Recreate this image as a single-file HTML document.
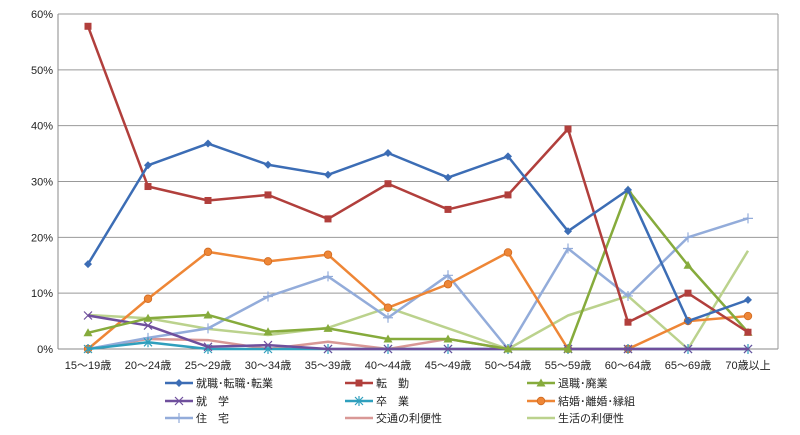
<!DOCTYPE html>
<html><head><meta charset="utf-8"><style>
body{margin:0;background:#fff;font-family:"Liberation Sans","Noto Sans CJK JP",sans-serif}
svg text{font-size:11px;fill:#222;font-family:"Liberation Sans","Noto Sans CJK JP",sans-serif}
</style></head><body>
<svg id="c" width="800" height="430" xmlns="http://www.w3.org/2000/svg"></svg>
<script>
const categories=["15～19歳","20～24歳","25～29歳","30～34歳","35～39歳","40～44歳","45～49歳","50～54歳","55～59歳","60～64歳","65～69歳","70歳以上"];
const yTicks=[0,10,20,30,40,50,60];
const sShushoku=[15.2,32.9,36.8,33.0,31.2,35.1,30.7,34.5,21.1,28.5,5.0,8.8];
const sTenkin=[57.8,29.1,26.6,27.6,23.3,29.6,25.0,27.6,39.4,4.8,10.0,3.0];
const sTaishoku=[2.9,5.5,6.1,3.1,3.7,1.8,1.8,0,0,28.5,15.0,3.0];
const sShugaku=[6.0,4.2,0.4,0.7,0,0,0,0,0,0,0,0];
const sSotsugyo=[0,1.2,0,0,0,0,0,0,0,0,0,0];
const sKekkon=[0,9.0,17.4,15.7,16.9,7.4,11.6,17.3,0,0,5.0,5.9];
const sJutaku=[0,2.0,3.7,9.4,13.0,5.6,13.2,0,18.0,9.5,20.0,23.4];
const sKotsu=[0,1.8,1.6,0,1.3,0,1.8,0,0,0,0,0];
const sSeikatsu=[6.1,5.5,3.6,2.5,3.8,7.4,3.7,0,6.0,9.5,0,17.6];
const series=[
 {n:"就職･転職･転業",d:sShushoku,c:"#3c6db5",m:"diamond",id:"shushoku"},
 {n:"転　勤",d:sTenkin,c:"#b13f3c",m:"square",id:"tenkin"},
 {n:"退職･廃業",d:sTaishoku,c:"#86ab3c",m:"triangle",id:"taishoku"},
 {n:"就　学",d:sShugaku,c:"#6f4f9c",m:"x",id:"shugaku"},
 {n:"卒　業",d:sSotsugyo,c:"#2f9fbd",m:"star",id:"sotsugyo"},
 {n:"結婚･離婚･縁組",d:sKekkon,c:"#ee8636",m:"circle",id:"kekkon"},
 {n:"住　宅",d:sJutaku,c:"#93acda",m:"plus",id:"jutaku"},
 {n:"交通の利便性",d:sKotsu,c:"#d99896",m:"none",id:"kotsu"},
 {n:"生活の利便性",d:sSeikatsu,c:"#bbd28d",m:"none",id:"seikatsu"}];
const L=58,R=778,T=14,B=349;
const x=i=>L+(R-L)/categories.length*(i+0.5);
const y=v=>B-(B-T)*v/60;
const svg=document.getElementById('c');const NS="http://www.w3.org/2000/svg";
function mk(t,a,p){const e=document.createElementNS(NS,t);for(const k in a)e.setAttribute(k,a[k]);(p||svg).appendChild(e);return e;}
const gr=mk('g',{});


yTicks.forEach(t=>{
 const l=mk('line',{x1:L,x2:R,y1:y(t),y2:y(t),stroke:t?'#999':'#888','stroke-width':1},gr);
 
 
 const tx=mk('text',{x:L-5,y:y(t)+4,'text-anchor':'end'});tx.textContent=t+'%';
 
 
});
const ax=mk('line',{x1:L,x2:L,y1:T,y2:B,stroke:'#888'});


mk('line',{x1:R,x2:R,y1:T,y2:B,stroke:'#999'});
categories.forEach((c,i)=>{const t=mk('text',{x:x(i),y:369,'text-anchor':'middle'});t.textContent=c;
 
 });
function marker(g,m,cx,cy,c){
 if(m==="diamond")mk('polygon',{points:`${cx},${cy-4} ${cx+4},${cy} ${cx},${cy+4} ${cx-4},${cy}`,fill:c},g);
 else if(m==="square")mk('rect',{x:cx-3.5,y:cy-3.5,width:7,height:7,fill:c},g);
 else if(m==="triangle")mk('polygon',{points:`${cx},${cy-4.5} ${cx+4.5},${cy+3.5} ${cx-4.5},${cy+3.5}`,fill:c},g);
 else if(m==="circle")mk('circle',{cx:cx,cy:cy,r:3.8,fill:c,stroke:'#d06a20','stroke-width':0.8},g);
 else if(m==="x"){mk('path',{d:`M${cx-4} ${cy-4}L${cx+4} ${cy+4}M${cx-4} ${cy+4}L${cx+4} ${cy-4}`,stroke:c,'stroke-width':1.2},g);}
 else if(m==="star"){mk('path',{d:`M${cx-4} ${cy-4}L${cx+4} ${cy+4}M${cx-4} ${cy+4}L${cx+4} ${cy-4}M${cx} ${cy-5}V${cy+5}`,stroke:c,'stroke-width':1.2},g);}
 else if(m==="plus"){mk('path',{d:`M${cx-5} ${cy}H${cx+5}M${cx} ${cy-5}V${cy+5}`,stroke:c,'stroke-width':1.2},g);}
}
[...series].reverse().forEach(s=>{
 const g=mk('g',{});
 
 
 const p=mk('polyline',{points:s.d.map((v,i)=>x(i)+','+y(v)).join(' '),fill:'none',stroke:s.c,'stroke-width':2.5,'stroke-linejoin':'round'},g);
 
 
 s.d.forEach((v,i)=>marker(g,s.m,x(i),y(v),s.c));
});
const cols=[165,345,527],rows=[383,401,418];
series.forEach((s,k)=>{
 const lx=cols[k%3],ly=rows[Math.floor(k/3)];
 const g=mk('g',{});
 
 
 mk('line',{x1:lx,x2:lx+28,y1:ly,y2:ly,stroke:s.c,'stroke-width':2.5},g);
 marker(g,s.m,lx+14,ly,s.c);
 const t=mk('text',{x:lx+31,y:ly+4},g);t.textContent=s.n;
});
</script>
</body></html>
